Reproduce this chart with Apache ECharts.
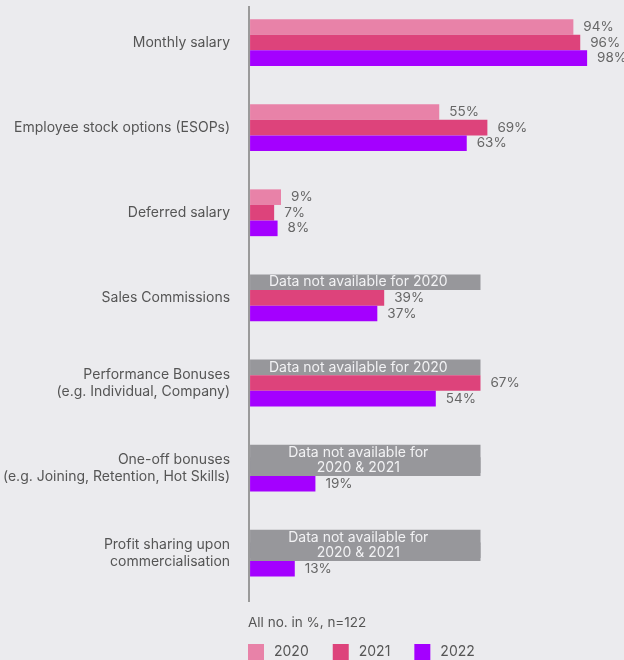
<!DOCTYPE html>
<html><head><meta charset="utf-8">
<script src="https://cdn.jsdelivr.net/npm/echarts@6/dist/echarts.min.js"></script>
<style>html,body{margin:0;padding:0;background:#ebebee;}#c{width:624px;height:660px;}</style>
</head><body><div id="c"></div>
<script>
const categories = ['Monthly salary','Employee stock options (ESOPs)','Deferred salary','Sales Commissions','Performance Bonuses\n(e.g. Individual, Company)','One-off bonuses\n(e.g. Joining, Retention, Hot Skills)','Profit sharing upon\ncommercialisation'];
const years = ['2020','2021','2022'];
const v2020 = [94,55,9,null,null,null,null];
const v2021 = [96,69,7,39,67,null,null];
const v2022 = [98,63,8,37,54,19,13];
const naBarValue = 67;
const naText1 = 'Data not available for 2020';
const naText2 = 'Data not available for\n2020 & 2021';
const note = 'All no. in %, n=122';

const colors = ['#e882a8','#dd437b','#a400ff'];
const gray = '#97979b';
const FONT = 'Inter';
const valueLabel = {show:true, position:'right', distance:10, formatter:'{c}%', color:'#666', fontSize:13.5, fontFamily:FONT};

function build(arr, idx){
  return arr.map((v,i)=>{
    if (v!==null) return {value:v};
    const bothMissing = v2021[i]===null;
    const o = {value:naBarValue, itemStyle:{color:gray}, label:{show:false}};
    if (idx===1){
      o.itemStyle.shadowColor = gray; o.itemStyle.shadowBlur = 0; o.itemStyle.shadowOffsetY = -3;
    }
    if (idx===0){
      o.label = {show:true, position:'inside', formatter: bothMissing?naText2:naText1,
        color:'#f2f2f4', fontSize:14, fontFamily:FONT, lineHeight:15,
        offset:[-7, bothMissing?8:0]};
    }
    return o;
  });
}
const chart = echarts.init(document.getElementById('c'));
chart.setOption({
  backgroundColor:'#ebebee',
  animation:false,
  title:{text:note, left:248, top:616, padding:0, textStyle:{fontSize:13.5, fontWeight:'normal', color:'#555', fontFamily:FONT}},
  legend:{data:years, left:248, top:644, padding:0, itemWidth:16, itemHeight:16, itemGap:24, icon:'rect',
    textStyle:{fontSize:14, color:'#555', fontFamily:FONT, width:38, padding:[0,0,0,5]}},
  grid:{left:250, right:30, top:-2.75, height:598.5, containLabel:false},
  xAxis:{type:'value', min:0, max:100, show:false},
  yAxis:{type:'category', data:categories, inverse:true,
    axisLine:{show:false}, axisTick:{show:false},
    axisLabel:{margin:20, fontSize:14, color:'#555', fontFamily:FONT, lineHeight:17}},
  graphic:[{type:'line', shape:{x1:249, y1:6, x2:249, y2:602}, style:{stroke:'#9a9a9a', lineWidth:2}}],
  series: [v2020,v2021,v2022].map((arr,k)=>({
    name: years[k], type:'bar', data: build(arr,k), barGap:0, barCategoryGap:'45%',
    itemStyle:{color:colors[k]}, label: valueLabel
  }))
});
</script></body></html>
